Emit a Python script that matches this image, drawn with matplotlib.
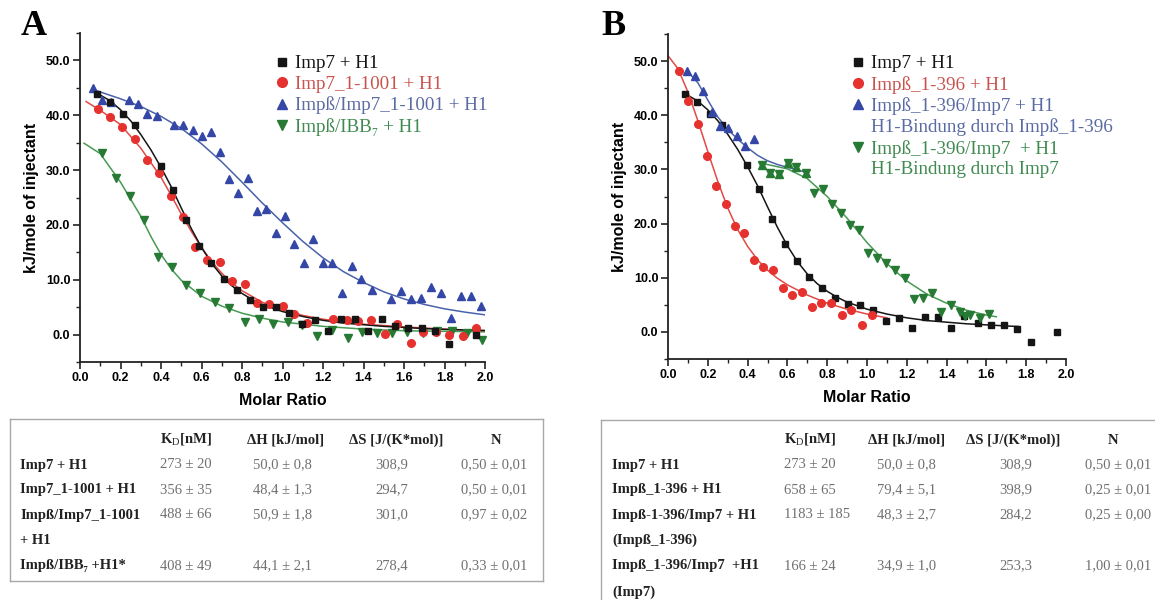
import matplotlib
matplotlib.use("Agg")
import matplotlib.pyplot as plt
from matplotlib.lines import Line2D
from matplotlib.ticker import MultipleLocator

plt.rcParams["mathtext.fontset"] = "custom"
plt.rcParams["mathtext.rm"] = "Liberation Serif"

# ---- titration data: molar ratio vs kJ/mole of injectant ----
imp7_x = [0.086, 0.147, 0.211, 0.271, 0.398, 0.459, 0.523, 0.588, 0.649, 0.711, 0.774, 0.839,
          0.903, 0.967, 1.031, 1.095, 1.160, 1.227, 1.291, 1.356, 1.422, 1.489, 1.556, 1.621,
          1.688, 1.754, 1.822, 1.957]
imp7_y = [43.9, 42.4, 40.2, 38.2, 30.8, 26.3, 20.9, 16.2, 13.1, 10.2, 8.1, 6.3,
          5.1, 5.0, 4.0, 2.0, 2.6, 0.7, 2.8, 2.8, 0.7, 2.9, 1.6, 1.2,
          1.2, 0.6, -1.8, -0.1]
imp7_fit_x = [0.09, 0.15, 0.2, 0.25, 0.3, 0.35, 0.4, 0.45, 0.5, 0.55, 0.6, 0.65, 0.7, 0.75,
              0.8, 0.85, 0.9, 1.0, 1.1, 1.2, 1.3, 1.4, 1.5, 1.6, 1.7, 1.76, 1.8, 1.9, 2.0]
imp7_fit_y = [43.9, 42.6, 41.0, 39.0, 36.5, 33.7, 30.5, 27.0, 23.1, 19.3, 15.9, 13.0, 10.7, 8.9,
              7.5, 6.4, 5.5, 4.2, 3.3, 2.6, 2.1, 1.8, 1.5, 1.3, 1.1, 1.0, 0.95, 0.85, 0.75]

imp7_1001_x = [0.087, 0.148, 0.209, 0.270, 0.329, 0.388, 0.449, 0.507, 0.570, 0.626, 0.691, 0.752,
               0.815, 0.876, 0.935, 1.001, 1.058, 1.121, 1.248, 1.317, 1.374, 1.439, 1.506, 1.565,
               1.633, 1.692, 1.758, 1.824, 1.890, 1.956]
imp7_1001_y = [41.2, 39.6, 37.9, 35.7, 31.9, 29.4, 25.3, 21.5, 16.0, 13.6, 13.2, 9.8,
               9.2, 5.8, 5.5, 5.2, 3.8, 2.1, 2.9, 2.7, 2.4, 2.7, 0.1, 2.0,
               -1.5, 0.5, 0.4, -0.1, -0.3, 1.2]
imp7_1001_fit_x = [0.03, 0.1, 0.2, 0.3, 0.4, 0.45, 0.5, 0.55, 0.6, 0.65, 0.7, 0.75, 0.8, 0.9,
                   1.0, 1.1, 1.2, 1.4, 1.6, 1.8, 2.0]
imp7_1001_fit_y = [42.5, 40.9, 38.3, 34.0, 28.7, 25.4, 22.0, 18.8, 15.9, 13.3, 11.2, 9.4, 8.0, 5.9,
                   4.5, 3.5, 2.8, 1.9, 1.4, 1.0, 0.7]

impb_imp7_1001_x = [0.066, 0.109, 0.153, 0.244, 0.288, 0.333, 0.379, 0.464, 0.510, 0.556, 0.601,
                    0.645, 0.691, 0.737, 0.782, 0.828, 0.874, 0.919, 0.966, 1.012, 1.058, 1.106,
                    1.152, 1.200, 1.246, 1.292, 1.342, 1.388, 1.440, 1.536, 1.585, 1.635, 1.682,
                    1.732, 1.781, 1.830, 1.880, 1.929, 1.979]
impb_imp7_1001_y = [44.9, 42.8, 42.5, 42.7, 42.1, 40.2, 39.8, 38.2, 38.2, 37.3, 36.2,
                    36.9, 33.3, 28.3, 25.9, 28.5, 22.6, 22.9, 18.6, 21.6, 16.5, 13.0,
                    17.4, 13.0, 13.1, 7.5, 12.5, 10.2, 8.2, 6.4, 7.9, 6.4, 6.6,
                    8.6, 7.5, 3.0, 7.0, 7.0, 5.2]
impb_imp7_1001_fit_x = [0.08, 0.2, 0.3, 0.4, 0.5, 0.6, 0.7, 0.8, 0.9, 1.0, 1.1, 1.2, 1.3, 1.4,
                        1.5, 1.6, 1.7, 1.8, 1.9, 2.0]
impb_imp7_1001_fit_y = [44.5, 43.0, 41.6, 39.8, 37.6, 34.8, 31.5, 27.8, 24.0, 20.4, 17.0, 14.0,
                        11.5, 9.5, 7.8, 6.5, 5.5, 4.7, 4.1, 3.6]

impb_ibb7_x = [0.107, 0.176, 0.245, 0.314, 0.384, 0.453, 0.523, 0.594, 0.667, 0.736, 0.813, 0.884,
               0.955, 1.027, 1.098, 1.172, 1.244, 1.322, 1.394, 1.467, 1.542, 1.616, 1.692, 1.765,
               1.839, 1.913, 1.987]
impb_ibb7_y = [33.2, 28.6, 25.2, 20.9, 14.1, 12.4, 9.0, 7.5, 6.0, 4.9, 2.3, 2.9,
               2.0, 2.3, 1.7, -0.3, 0.8, -0.6, 0.5, 0.2, 0.2, 0.4, 0.2, 0.7,
               0.6, 0.2, -1.0]
impb_ibb7_fit_x = [0.02, 0.1, 0.2, 0.3, 0.35, 0.4, 0.45, 0.5, 0.6, 0.7, 0.8, 0.9, 1.0, 1.2, 1.4,
                   1.6, 1.8, 2.0]
impb_ibb7_fit_y = [34.9, 33.0, 27.8, 21.6, 17.9, 14.6, 12.0, 9.9, 7.0, 5.2, 3.9, 3.0, 2.3, 1.5, 1.0,
                   0.7, 0.6, 0.5]

impb396_x = [0.055, 0.101, 0.149, 0.195, 0.243, 0.289, 0.337, 0.383, 0.431, 0.479, 0.529, 0.577,
             0.625, 0.673, 0.723, 0.771, 0.820, 0.872, 0.922, 0.973, 1.023]
impb396_y = [48.2, 42.7, 38.4, 32.5, 26.9, 23.7, 19.5, 18.2, 13.2, 12.0, 11.5, 8.2,
             6.9, 7.3, 4.6, 5.4, 5.4, 3.2, 4.1, 1.2, 3.1]
impb396_fit_x = [0.0, 0.05, 0.1, 0.15, 0.2, 0.25, 0.3, 0.35, 0.4, 0.45, 0.5, 0.55, 0.6, 0.7, 0.8,
                 0.9, 1.0, 1.1]
impb396_fit_y = [51.0, 48.6, 44.3, 39.0, 33.3, 27.8, 22.9, 18.9, 15.8, 13.3, 11.4, 9.9, 8.7, 6.8, 5.3,
                 4.2, 3.3, 2.6]

# Impß_1-396/Imp7 + H1: first binding step (Impß_1-396) and second step (Imp7)
site1_x = [0.094, 0.135, 0.175, 0.219, 0.260, 0.300, 0.345, 0.385, 0.430]
site1_y = [48.2, 47.3, 44.5, 40.6, 38.0, 37.6, 36.1, 34.4, 35.7]
site1_fit_x = [0.1, 0.15, 0.2, 0.25, 0.3, 0.35, 0.4, 0.45, 0.5, 0.55, 0.6, 0.65, 0.69]
site1_fit_y = [48.0, 46.0, 42.8, 39.7, 37.4, 35.6, 34.0, 32.6, 31.6, 30.9, 30.4, 29.9, 29.5]

site2_overlap_x = [0.474, 0.514, 0.559, 0.603, 0.645, 0.691]
site2_overlap_y = [30.9, 29.4, 29.1, 31.2, 30.5, 29.4]
site2_x = [0.734, 0.778, 0.824, 0.868, 0.916, 0.962, 1.006, 1.051, 1.097, 1.143, 1.189, 1.235,
           1.281, 1.327, 1.373, 1.423, 1.469, 1.490, 1.517, 1.567, 1.613]
site2_y = [25.7, 26.4, 23.6, 22.0, 19.8, 18.8, 14.5, 13.7, 12.7, 11.5, 10.0, 6.0,
           6.2, 7.1, 3.7, 4.9, 3.7, 2.9, 3.1, 2.6, 3.4]
site2_fit_x = [0.46, 0.5, 0.6, 0.7, 0.8, 0.9, 1.0, 1.1, 1.2, 1.3, 1.4, 1.5, 1.6, 1.65]
site2_fit_y = [31.2, 30.9, 30.1, 28.3, 25.0, 21.0, 16.5, 12.6, 9.4, 7.0, 5.3, 4.0, 3.1, 2.8]

# ---- fit results tables ----
table_a_labels = ["Imp7 + H1", "Imp7_1-1001 + H1", "Impß/Imp7_1-1001", "+ H1", "Impß/IBB\u2087 +H1*"]
table_a_kd = ["273 ± 20", "356 ± 35", "488 ± 66", "", "408 ± 49"]
table_a_dh = ["50,0 ± 0,8", "48,4 ± 1,3", "50,9 ± 1,8", "", "44,1 ± 2,1"]
table_a_ds = ["308,9", "294,7", "301,0", "", "278,4"]
table_a_n = ["0,50 ± 0,01", "0,50 ± 0,01", "0,97 ± 0,02", "", "0,33 ± 0,01"]

table_b_labels = ["Imp7 + H1", "Impß_1-396 + H1", "Impß-1-396/Imp7 + H1", "(Impß_1-396)",
                  "Impß_1-396/Imp7  +H1", "(Imp7)"]
table_b_kd = ["273 ± 20", "658 ± 65", "1183 ± 185", "", "166 ± 24", ""]
table_b_dh = ["50,0 ± 0,8", "79,4 ± 5,1", "48,3 ± 2,7", "", "34,9 ± 1,0", ""]
table_b_ds = ["308,9", "398,9", "284,2", "", "253,3", ""]
table_b_n = ["0,50 ± 0,01", "0,25 ± 0,01", "0,25 ± 0,00", "", "1,00 ± 0,01", ""]

table_headers = ["K$_{\\mathrm{D}}$[nM]", "ΔH [kJ/mol]", "ΔS [J/(K*mol)]", "N"]

BLACK = "#151515"
RED_M, RED_L, RED_T = "#e5322f", "#e24a46", "#c9524e"
BLUE_M, BLUE_L, BLUE_T = "#3547a6", "#4a62aa", "#5a6aa3"
GREEN_M, GREEN_L, GREEN_T = "#277a33", "#479a53", "#3f8a50"

SANS = ["Liberation Sans", "DejaVu Sans"]
SERIF = ["Liberation Serif", "DejaVu Serif"]

W, H = 1155, 600
fig = plt.figure(figsize=(W / 100, H / 100), dpi=100)


def px(x, y):
    return x / W, 1 - y / H


def make_axes(left, top, right, bottom):
    x0, y1 = px(left, top)
    x1, y0 = px(right, bottom)
    ax = fig.add_axes([x0, y0, x1 - x0, y1 - y0])
    ax.set_xlim(0, 2.0)
    ax.set_ylim(-5, 55)
    for side in ("top", "right"):
        ax.spines[side].set_visible(False)
    for side in ("left", "bottom"):
        ax.spines[side].set_linewidth(1.3)
        ax.spines[side].set_color("#222222")
    xt = [0.0, 0.2, 0.4, 0.6, 0.8, 1.0, 1.2, 1.4, 1.6, 1.8, 2.0]
    yt = [0, 10, 20, 30, 40, 50]
    ax.set_xticks(xt, ["%.1f" % v for v in xt], fontweight="bold", family=SANS, fontsize=9)
    ax.set_yticks(yt, ["%.1f" % v for v in yt], fontweight="bold", family=SANS, fontsize=9)
    ax.xaxis.set_minor_locator(MultipleLocator(0.1))
    ax.yaxis.set_minor_locator(MultipleLocator(5))
    ax.tick_params(which="major", direction="out", length=5, width=1.2, color="#222222", pad=2)
    ax.tick_params(which="minor", direction="out", length=3, width=1.0, color="#222222")
    ax.set_xlabel("Molar Ratio", fontweight="bold", family=SANS, fontsize=11.5, labelpad=7)
    ax.set_ylabel("kJ/mole of injectant", fontweight="bold", family=SANS, fontsize=11.5, labelpad=5)
    return ax


def series(ax, x, y, fx, fy, marker, mcolor, lcolor, ms):
    ax.plot(fx, fy, color=lcolor, lw=1.1, zorder=2)
    ax.plot(x, y, linestyle="none", marker=marker, color=mcolor, ms=ms, mec=mcolor, zorder=3,
            clip_on=False)


def handle(marker, color, ms):
    return Line2D([], [], linestyle="none", marker=marker, color=color, ms=ms)


def legend(ax, handles, labels, colors, left, top):
    leg = ax.legend(handles, labels, labelcolor=colors, frameon=False, loc="upper left",
                    bbox_to_anchor=px(left, top), bbox_transform=fig.transFigure,
                    prop={"family": SERIF, "size": 13.7}, handlelength=0.75,
                    handletextpad=0.3, labelspacing=0.18, borderpad=0, borderaxespad=0)
    return leg


# ---- panel A ----
ax_a = make_axes(80, 33, 485, 362)
series(ax_a, impb_imp7_1001_x, impb_imp7_1001_y, impb_imp7_1001_fit_x, impb_imp7_1001_fit_y,
       "^", BLUE_M, BLUE_L, 6)
series(ax_a, impb_ibb7_x, impb_ibb7_y, impb_ibb7_fit_x, impb_ibb7_fit_y, "v", GREEN_M, GREEN_L, 6)
series(ax_a, imp7_1001_x, imp7_1001_y, imp7_1001_fit_x, imp7_1001_fit_y, "o", RED_M, RED_L, 5.5)
series(ax_a, imp7_x, imp7_y, imp7_fit_x, imp7_fit_y, "s", BLACK, BLACK, 5)

legend(ax_a,
       [handle("s", BLACK, 6), handle("o", RED_M, 7), handle("^", BLUE_M, 7), handle("v", GREEN_M, 7)],
       ["Imp7 + H1", "Imp7_1-1001 + H1", "Impß/Imp7_1-1001 + H1", "Impß/IBB\u2087 + H1"],
       [BLACK, RED_T, BLUE_T, GREEN_T], 275, 55)

# ---- panel B ----
ax_b = make_axes(668, 34, 1066, 359)
b_black_x = [v for v in imp7_fit_x if v <= 1.76]
b_black_y = imp7_fit_y[:len(b_black_x)]
series(ax_b, imp7_x, imp7_y, b_black_x, b_black_y, "s", BLACK, BLACK, 5)
series(ax_b, impb396_x, impb396_y, impb396_fit_x, impb396_fit_y, "o", RED_M, RED_L, 5.5)
series(ax_b, site2_x, site2_y, site2_fit_x, site2_fit_y, "v", GREEN_M, GREEN_L, 6)
series(ax_b, site1_x, site1_y, site1_fit_x, site1_fit_y, "^", BLUE_M, BLUE_L, 6)
# overlapping points of both steps show as stars
ax_b.plot(site2_overlap_x, site2_overlap_y, linestyle="none", marker="^", color=GREEN_M, ms=6, zorder=3)
ax_b.plot(site2_overlap_x, site2_overlap_y, linestyle="none", marker="v", color=GREEN_M, ms=6, zorder=3)

blank = Line2D([], [], linestyle="none")
legend(ax_b,
       [handle("s", BLACK, 6), handle("o", RED_M, 7), handle("^", BLUE_M, 7), blank,
        handle("v", GREEN_M, 7), blank],
       ["Imp7 + H1", "Impß_1-396 + H1", "Impß_1-396/Imp7 + H1", "H1-Bindung durch Impß_1-396",
        "Impß_1-396/Imp7  + H1", "H1-Bindung durch Imp7"],
       [BLACK, RED_T, BLUE_T, BLUE_T, GREEN_T, GREEN_T], 851, 55)

# panel letters
fig.text(*px(21, 35), "A", family=SERIF, fontweight="bold", fontsize=26, va="baseline")
fig.text(*px(601, 35), "B", family=SERIF, fontweight="bold", fontsize=26, va="baseline")


# ---- tables ----
def table(labels, kd, dh, ds, n, label_x, cols, header_y, row_y):
    kd_x, dh_hx, dh_x, ds_hx, ds_x, n_hx, n_x = cols
    hdr = dict(family=SERIF, fontweight="bold", fontsize=10.5, color="#222222", va="center")
    fig.text(*px(kd_x, header_y), table_headers[0], ha="left", **hdr)
    fig.text(*px(dh_hx, header_y), table_headers[1], ha="left", **hdr)
    fig.text(*px(ds_hx, header_y), table_headers[2], ha="left", **hdr)
    fig.text(*px(n_hx, header_y), table_headers[3], ha="center", **hdr)
    val = dict(family=SERIF, fontsize=10.5, color="#707070", va="center")
    for i, lab in enumerate(labels):
        y = header_y + row_y[i]
        fig.text(*px(label_x, y), lab, ha="left", family=SERIF, fontweight="bold",
                 fontsize=10.5, color="#222222", va="center")
        fig.text(*px(kd_x, y), kd[i], ha="left", **val)
        fig.text(*px(dh_x, y), dh[i], ha="left", **val)
        fig.text(*px(ds_x, y), ds[i], ha="center", **val)
        fig.text(*px(n_x, y), n[i], ha="left", **val)


row_offsets = [25, 50, 75, 100, 126, 152]
table(table_a_labels, table_a_kd, table_a_dh, table_a_ds, table_a_n, 20,
      (160, 247, 253, 349, 392, 496, 461), 440, row_offsets)
table(table_b_labels, table_b_kd, table_b_dh, table_b_ds, table_b_n, 612,
      (784, 868, 877, 966, 1016, 1113, 1085), 440, row_offsets)

frame = dict(color="#a8a8a8", lw=1.0, transform=fig.transFigure)
for (xa, ya), (xb, yb) in [((10, 419), (543, 419)), ((543, 419), (543, 581)),
                           ((543, 581), (10, 581)), ((10, 581), (10, 419)),
                           ((601, 420), (1155, 420)), ((601, 420), (601, 600))]:
    p0, p1 = px(xa, ya), px(xb, yb)
    fig.add_artist(Line2D([p0[0], p1[0]], [p0[1], p1[1]], **frame))

fig.savefig("out.png", dpi=100)
